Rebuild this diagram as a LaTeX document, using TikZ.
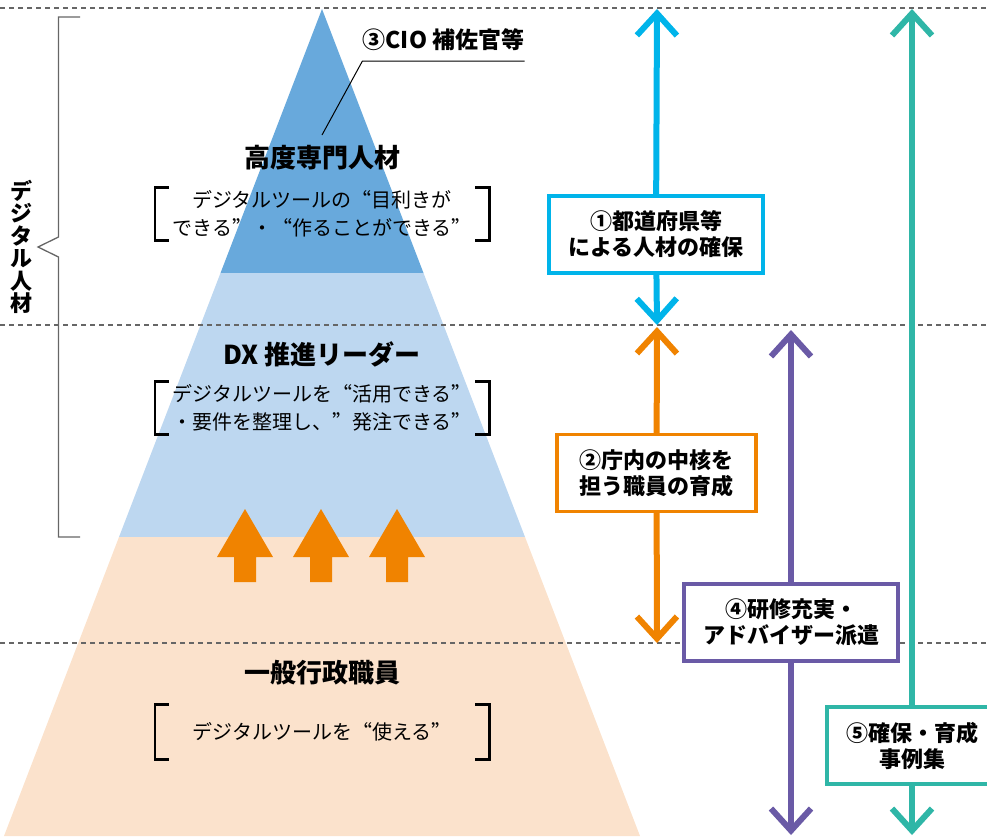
\documentclass[tikz,border=0pt]{standalone}
\usepackage{fontspec}
\setmainfont{Noto Sans CJK JP}
\newfontfamily\notefont{Noto Sans CJK JP}[RawFeature=+fwid]
\usepackage{xcolor}
\usetikzlibrary{arrows.meta, positioning}

\definecolor{tiertop}{HTML}{68A9DC}
\definecolor{tiermid}{HTML}{BDD7F0}
\definecolor{tierbase}{HTML}{FBE2CC}
\definecolor{dxorange}{HTML}{F08300}
\definecolor{cyanline}{HTML}{00B4EA}
\definecolor{purpleline}{HTML}{6A5AA6}
\definecolor{tealline}{HTML}{2FB6A7}
\definecolor{guidegray}{HTML}{666666}

\begin{document}
\begin{tikzpicture}[x=1pt, y=-1pt,
    guide/.style={draw=guidegray, line width=1.2pt, dash pattern=on 5pt off 4pt},
    tierlabel/.style={font=\fontsize{26}{30}\selectfont\bfseries, inner sep=0pt},
    tiernote/.style={minimum width=334pt, minimum height=53pt, align=center, inner sep=0pt, font=\notefont\fontsize{20}{28}\selectfont},
    brk/.style={line width=2.6pt, line join=miter},
    policybox/.style={draw, line width=3.3pt, fill=white, minimum height=77pt, align=center, inner sep=0pt, font=\fontsize{22}{26}\selectfont\bfseries},
    reach/.style={line width=6pt, -{Straight Barb[length=22pt, width=40pt]}},
    leader/.style={line width=1pt},
    brace/.style={draw=guidegray, line width=1.3pt}
]
    \useasboundingbox (0,0) rectangle (987,836);

    \fill[tiertop] (322,9) -- (423.5,273) -- (220.5,273) -- cycle;
    \fill[tiermid] (220.5,273) -- (423.5,273) -- (525,537) -- (119,537) -- cycle;
    \fill[tierbase] (119,537) -- (525,537) -- (640,836) -- (4,836) -- cycle;

    \draw[guide] (0,8) -- (987,8);
    \draw[guide] (0,325) -- (987,325);
    \draw[guide] (0,643) -- (987,643);

    \foreach \ax in {245,321,397}
        \fill[dxorange] (\ax-11,582) -- (\ax-11,557) -- (\ax-28,557) -- (\ax,509)
            -- (\ax+28,557) -- (\ax+11,557) -- (\ax+11,582) -- cycle;

    \draw[brace] (80,17) -- (58.5,17) -- (58.5,237) -- (38,247) -- (58.5,257) -- (58.5,537) -- (80,537);
    \node[align=center, inner sep=0pt, font=\fontsize{22}{22.5}\selectfont\bfseries] (jinzai) at (21,247) {デ\\ジ\\タ\\ル\\人\\材};

    \node[tierlabel] (expert) at (322,158) {高度専門人材};
    \node[tiernote] (hint1) at (322,214) {デジタルツールの“目利きが\\できる”・“作ることができる”};
    \node[tierlabel] (leader) at (322,354) {DX 推進リーダー};
    \node[tiernote] (hint2) at (322,408) {デジタルツールを“活用できる”\\・要件を整理し、”発注できる”};
    \node[tierlabel] (staff) at (322,673) {一般行政職員};
    \node[tiernote, minimum height=55pt] (hint3) at (322,732) {デジタルツールを“使える”};

    \foreach \n in {hint1,hint2,hint3} {
        \draw[brk] ([xshift=14pt]\n.north west) -- (\n.north west) -- (\n.south west) -- ([xshift=14pt]\n.south west);
        \draw[brk] ([xshift=-14pt]\n.north east) -- (\n.north east) -- (\n.south east) -- ([xshift=-14pt]\n.south east);
    }

    \node[inner sep=0pt, font=\fontsize{23}{26}\selectfont\bfseries] (cio) at (443.5,40) {③CIO 補佐官等};
    \coordinate (cioRule) at (0,61);
    \coordinate (cioTip) at (322,135);
    \draw[leader] (cio.east |- cioRule) -- (cio.west |- cioRule) -- (cioTip);

    \coordinate (cyanTop) at (657,9);
    \coordinate (cyanBot) at (657,325);
    \node[policybox, draw=cyanline, minimum width=214pt] (secure) at (656,234.5) {①都道府県等\\による人材の確保};
    \draw[reach, cyanline] (secure) -- (cyanTop);
    \draw[reach, cyanline] (secure) -- (cyanBot);

    \coordinate (orangeTop) at (657,327);
    \coordinate (orangeBot) at (657,643);
    \node[policybox, draw=dxorange, minimum width=199pt] (core) at (656.5,473) {②庁内の中核を\\担う職員の育成};
    \draw[reach, dxorange] (core) -- (orangeTop);
    \draw[reach, dxorange] (core) -- (orangeBot);

    \coordinate (purpleTop) at (791,330);
    \coordinate (purpleBot) at (791,835);
    \node[policybox, draw=purpleline, minimum width=214pt] (training) at (791,622.5) {④研修充実・\\アドバイザー派遣};
    \draw[reach, purpleline] (training) -- (purpleTop);
    \draw[reach, purpleline] (training) -- (purpleBot);

    \coordinate (tealTop) at (912,9);
    \coordinate (tealBot) at (912,835);
    \node[policybox, draw=tealline, minimum width=170pt] (cases) at (912,745.5) {⑤確保・育成\\事例集};
    \draw[reach, tealline] (cases) -- (tealTop);
    \draw[reach, tealline] (cases) -- (tealBot);
\end{tikzpicture}
\end{document}
